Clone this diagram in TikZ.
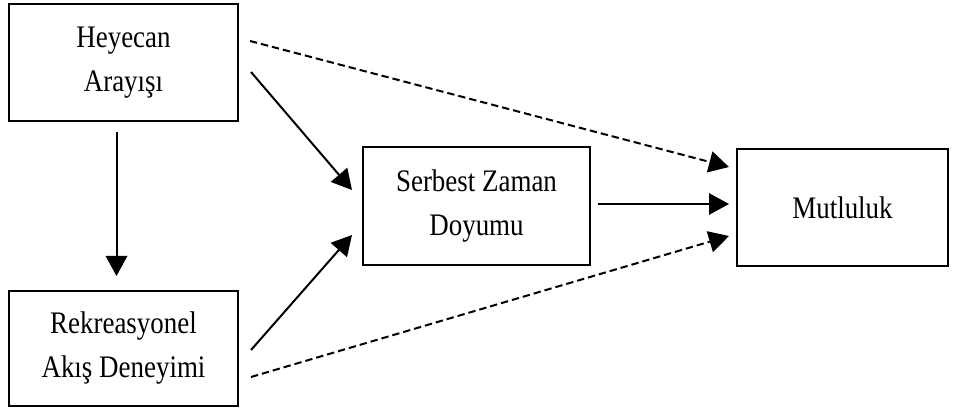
\documentclass[tikz,border=0pt]{standalone}
\usepackage{fontspec}
\setmainfont{Liberation Serif}[FakeStretch=0.86]
\usetikzlibrary{arrows.meta,calc}
\tikzset{
  FB/.style={rectangle,draw=black,line width=1.5pt,
             text centered,align=center,inner sep=2pt,
             font=\fontsize{23.5}{33}\selectfont},
  arr/.style={-{Triangle[length=15pt,width=16pt]},line width=1.5pt},
  darr/.style={arr,dash pattern=on 5.5pt off 3pt}
}
\begin{document}
\begin{tikzpicture}[x=0.75pt,y=-0.75pt]
  \useasboundingbox (0,0) rectangle (955,409);
  \node[FB,minimum width=171.75pt,minimum height=87.75pt] (heyecan) at (123.5,62.5) {Heyecan\\Arayışı};
  \node[FB,minimum width=171.75pt,minimum height=86.25pt] (rekreasyon) at (123.5,348.5) {Rekreasyonel\\Akış Deneyimi};
  \node[FB,minimum width=170.25pt,minimum height=88.5pt] (doyum) at (476.5,206) {Serbest Zaman\\Doyumu};
  \node[FB,minimum width=158.25pt,minimum height=87.75pt] (mutluluk) at (842.5,207.5) {Mutluluk};

  \draw[arr] ($(heyecan.south)+(-7,10)$) -- ($(rekreasyon.north)+(-7,-14)$);
  \draw[arr] ($(heyecan.east)+(12,9.5)$) -- ($(doyum.west)+(-10,-16)$);
  \draw[arr] ($(rekreasyon.east)+(12,1.5)$) -- ($(doyum.west)+(-10,29)$);
  \draw[arr] ($(doyum.east)+(7,-2)$) -- ($(mutluluk.west)+(-7,-3.5)$);
  \draw[darr] ($(heyecan.east)+(11,-21.5)$) -- ($(mutluluk.west)+(-7,-40.5)$);
  \draw[darr] ($(rekreasyon.east)+(12,28.5)$) -- ($(mutluluk.west)+(-7,28.5)$);
\end{tikzpicture}
\end{document}
